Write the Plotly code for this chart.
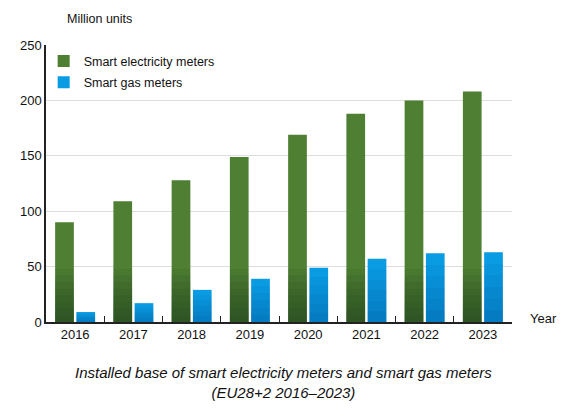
import plotly.graph_objects as go

# dados
anos = ['2016', '2017', '2018', '2019', '2020', '2021', '2022', '2023']
eletricidade = [90, 109, 128, 149, 169, 188, 200, 208]
gas = [9, 17, 29, 39, 49, 57, 62, 63]

fonte = 'Liberation Sans, Arial, sans-serif'

fig = go.Figure()
fig.add_trace(go.Bar(x=anos, y=eletricidade, name='Smart electricity meters',
                     offsetgroup='ele', legendgroup='ele',
                     marker=dict(color='#4e7f32', line=dict(width=0))))
fig.add_trace(go.Bar(x=anos, y=gas, name='Smart gas meters',
                     offsetgroup='gas', legendgroup='gas',
                     marker=dict(color='#0a9ce2', line=dict(width=0))))

# camadas semi-transparentes para imitar o degrade no pe das barras
for h in [6, 12, 18, 24, 30, 36, 42, 48]:
    fig.add_trace(go.Bar(x=anos, y=[min(v, h) for v in eletricidade],
                         offsetgroup='ele', showlegend=False, hoverinfo='skip',
                         marker=dict(color='rgba(25,55,30,0.10)', line=dict(width=0))))
for k in [0.17, 0.33, 0.5, 0.67, 0.83]:
    fig.add_trace(go.Bar(x=anos, y=[v * k for v in gas],
                         offsetgroup='gas', showlegend=False, hoverinfo='skip',
                         marker=dict(color='rgba(0,50,130,0.07)', line=dict(width=0))))

fig.update_layout(
    width=576, height=410,
    margin=dict(l=38, r=72, t=37, b=96),
    paper_bgcolor='white', plot_bgcolor='white',
    font=dict(family=fonte, size=13, color='#111111'),
    barmode='group', bargap=0.27, bargroupgap=0.12,
    showlegend=True,
    legend=dict(x=-0.005, y=0.995, xanchor='left', yanchor='top',
                bgcolor='rgba(0,0,0,0)', font=dict(size=12.5),
                itemsizing='constant', tracegroupgap=2),
)
fig.update_xaxes(showline=True, linecolor='#222222', linewidth=1.5,
                 ticks='inside', tickson='boundaries', ticklen=6,
                 tickcolor='#222222', showgrid=False)
fig.update_yaxes(range=[0, 250], dtick=50, showline=True, linecolor='#222222',
                 linewidth=1.5, showgrid=True, gridcolor='#dddddd',
                 ticks='', zeroline=False)

fig.add_annotation(text='Million units', xref='paper', yref='paper',
                   x=0.04, y=1.0, yshift=26, xanchor='left', yanchor='middle',
                   showarrow=False, font=dict(size=12.5))
fig.add_annotation(text='Year', xref='paper', yref='paper', x=1.0, y=0,
                   xshift=16, yshift=4, xanchor='left', yanchor='middle',
                   showarrow=False, font=dict(size=13))
fig.add_annotation(text='<i>Installed base of smart electricity meters and smart gas meters<br>(EU28+2 2016–2023)</i>',
                   xref='paper', yref='paper', x=0.5, y=0, yshift=-40, xshift=4,
                   xanchor='center', yanchor='top', showarrow=False,
                   font=dict(size=15))

fig.write_html('out.html')
